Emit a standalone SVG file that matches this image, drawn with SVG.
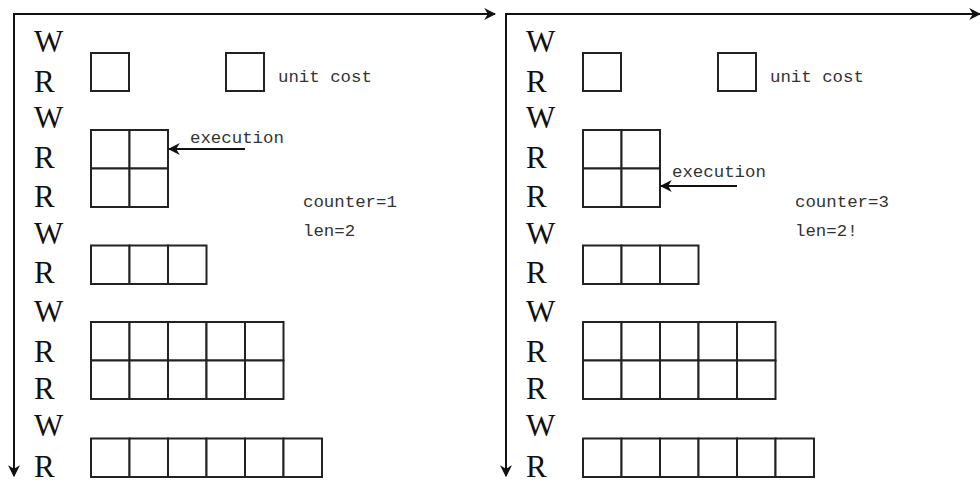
<svg xmlns="http://www.w3.org/2000/svg" width="980" height="482" viewBox="0 0 980 482">
  <style>
    .op { font-family: "Liberation Serif", serif; font-size: 31px; fill: #111; }
    .mono { font-family: "Liberation Mono", monospace; font-size: 17.4px; fill: #333; }
    .cell { fill: #fff; stroke: #222; stroke-width: 2; }
    .axis { stroke: #111; stroke-width: 2; fill: none; }
  </style>
  <defs>
    <marker id="head" viewBox="0 0 10 10" refX="9" refY="5" markerWidth="6" markerHeight="6" orient="auto" markerUnits="strokeWidth">
      <path d="M0,0 L10,5 L0,10 L3,5 Z" fill="#111"/>
    </marker>
    <!-- one panel: op labels and the unit-cost grids -->
    <g id="panelBody">
      <g id="ops">
        <text class="op" x="34" y="52">W</text>
        <text class="op" x="34" y="92">R</text>
        <text class="op" x="34" y="128">W</text>
        <text class="op" x="34" y="168">R</text>
        <text class="op" x="34" y="207">R</text>
        <text class="op" x="34" y="244">W</text>
        <text class="op" x="34" y="283">R</text>
        <text class="op" x="34" y="322">W</text>
        <text class="op" x="34" y="362">R</text>
        <text class="op" x="34" y="399">R</text>
        <text class="op" x="34" y="436">W</text>
        <text class="op" x="34" y="477">R</text>
      </g>
      <g id="unitBox">
        <rect class="cell" x="91" y="53" width="38" height="38"/>
      </g>
      <g id="legendBox">
        <rect class="cell" x="226" y="53" width="38" height="38"/>
      </g>
      <g id="grid2x2">
        <rect class="cell" x="91" y="130" width="38.5" height="38.5"/>
        <rect class="cell" x="129.5" y="130" width="38.5" height="38.5"/>
        <rect class="cell" x="91" y="168.5" width="38.5" height="38.5"/>
        <rect class="cell" x="129.5" y="168.5" width="38.5" height="38.5"/>
      </g>
      <g id="grid1x3">
        <rect class="cell" x="91" y="245.5" width="38.5" height="38.5"/>
        <rect class="cell" x="129.5" y="245.5" width="38.5" height="38.5"/>
        <rect class="cell" x="168" y="245.5" width="38.5" height="38.5"/>
      </g>
      <g id="grid2x5">
        <rect class="cell" x="91" y="322" width="38.5" height="38.5"/>
        <rect class="cell" x="129.5" y="322" width="38.5" height="38.5"/>
        <rect class="cell" x="168" y="322" width="38.5" height="38.5"/>
        <rect class="cell" x="206.5" y="322" width="38.5" height="38.5"/>
        <rect class="cell" x="245" y="322" width="38.5" height="38.5"/>
        <rect class="cell" x="91" y="360.5" width="38.5" height="38.5"/>
        <rect class="cell" x="129.5" y="360.5" width="38.5" height="38.5"/>
        <rect class="cell" x="168" y="360.5" width="38.5" height="38.5"/>
        <rect class="cell" x="206.5" y="360.5" width="38.5" height="38.5"/>
        <rect class="cell" x="245" y="360.5" width="38.5" height="38.5"/>
      </g>
      <g id="grid1x6">
        <rect class="cell" x="91" y="438.5" width="38.5" height="38.5"/>
        <rect class="cell" x="129.5" y="438.5" width="38.5" height="38.5"/>
        <rect class="cell" x="168" y="438.5" width="38.5" height="38.5"/>
        <rect class="cell" x="206.5" y="438.5" width="38.5" height="38.5"/>
        <rect class="cell" x="245" y="438.5" width="38.5" height="38.5"/>
        <rect class="cell" x="283.5" y="438.5" width="38.5" height="38.5"/>
      </g>
      <text class="mono" x="278" y="82">unit cost</text>
    </g>
  </defs>

  <rect width="980" height="482" fill="#fff"/>

  <!-- left panel -->
  <g id="panel1">
    <use href="#panelBody"/>
    <text class="mono" x="190" y="143">execution</text>
    <text class="mono" x="303" y="207">counter=1</text>
    <text class="mono" x="303" y="236">len=2</text>
  </g>

  <!-- right panel -->
  <g id="panel2">
    <use href="#panelBody" x="492"/>
    <text class="mono" x="672" y="177">execution</text>
    <text class="mono" x="795" y="207">counter=3</text>
    <text class="mono" x="795" y="236">len=2!</text>
  </g>

  <g id="connectors">
    <!-- time axes -->
    <line class="axis" x1="14" y1="14" x2="14" y2="476" marker-end="url(#head)"/>
    <line class="axis" x1="13" y1="14" x2="495" y2="14" marker-end="url(#head)"/>
    <line class="axis" x1="506" y1="14" x2="506" y2="476" marker-end="url(#head)"/>
    <line class="axis" x1="505" y1="14" x2="980" y2="14" marker-end="url(#head)"/>
    <!-- execution pointers -->
    <line class="axis" x1="245" y1="149" x2="169" y2="149" marker-end="url(#head)"/>
    <line class="axis" x1="737" y1="186" x2="661" y2="186" marker-end="url(#head)"/>
  </g>
</svg>
